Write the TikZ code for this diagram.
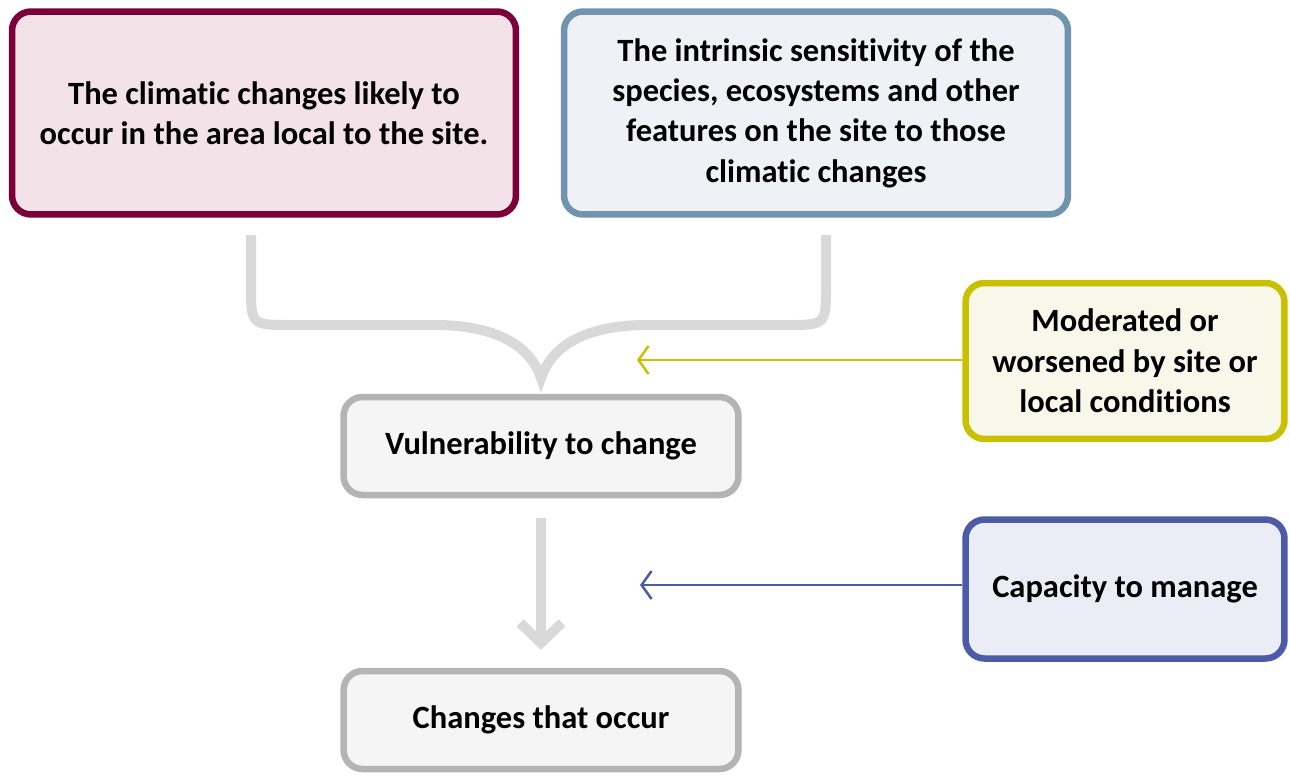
\documentclass[tikz,border=0pt]{standalone}
\usepackage{fontspec}
\setmainfont[Ligatures={NoCommon,NoContextual}, Contextuals=NoAlternate]{Carlito}
\usetikzlibrary{arrows.meta}

\definecolor{wine}{HTML}{7B0039}
\definecolor{winefill}{HTML}{F3E3E9}
\definecolor{steel}{HTML}{7094AE}
\definecolor{steelfill}{HTML}{EEF2F7}
\definecolor{olive}{HTML}{C8C000}
\definecolor{olivefill}{HTML}{F8F8EA}
\definecolor{indigo}{HTML}{4D5AA8}
\definecolor{indigofill}{HTML}{ECECF6}
\definecolor{boxgrey}{HTML}{B4B4B4}
\definecolor{boxfill}{HTML}{F5F5F5}
\definecolor{flowgrey}{HTML}{D9D9D9}

\begin{document}
\begin{tikzpicture}[x=0.02cm, y=-0.02cm,
	box/.style={draw, line width=0.13cm, rounded corners=0.38cm, align=center,
		font=\bfseries\fontsize{18.5}{23}\selectfont, inner sep=0pt},
	bigbox/.style={box, minimum width=10.08cm, minimum height=4.06cm},
	sidebox/.style={box, minimum width=6.38cm},
	stepbox/.style={box, draw=boxgrey, fill=boxfill, minimum width=7.9cm, minimum height=1.96cm},
	flow/.style={draw=flowgrey, line width=0.2cm},
	hint/.style={line width=0.05cm, -{Straight Barb[length=0.2cm, width=0.56cm]}}
	]

	\useasboundingbox (0,0) rectangle (1290,775);

	\node[bigbox, draw=wine, fill=winefill] (clim) at (264,113)
		{The climatic changes likely to\\occur in the area local to the site.};
	\node[bigbox, draw=steel, fill=steelfill] (sens) at (816,113)
		{The intrinsic sensitivity of the\\species, ecosystems and other\\features on the site to those\\climatic changes};
	\node[sidebox, draw=olive, fill=olivefill, minimum height=3.12cm] (mod) at (1125,361)
		{Moderated or\\worsened by site or\\local conditions};
	\node[sidebox, draw=indigo, fill=indigofill, minimum height=2.78cm] (cap) at (1125,589)
		{Capacity to manage};
	\node[stepbox] (vul) at (541,446) {Vulnerability to change};
	\node[stepbox] (chg) at (541,720) {Changes that occur};

	% brace joining the two top boxes
	\coordinate (tip) at (541,378);
	\draw[flow] (251,235) -- (251,285) .. controls (251,325) .. (291,325)
		-- (435,325) .. controls (495,325) and (530,345) .. (tip)
		.. controls (552,345) and (587,325) .. (647,325)
		-- (786,325) .. controls (826,325) .. (826,285) -- (826,235);

	\draw[flow, -{Straight Barb[length=0.4cm, width=0.84cm]}]
		([yshift=-0.4cm]vul.south) -- ([yshift=0.36cm]chg.north);

	\coordinate (modend) at (637,360);
	\coordinate (capend) at (640,585);
	\draw[hint, olive] (mod.west |- modend) -- (modend);
	\draw[hint, indigo] (cap.west |- capend) -- (capend);

\end{tikzpicture}
\end{document}
